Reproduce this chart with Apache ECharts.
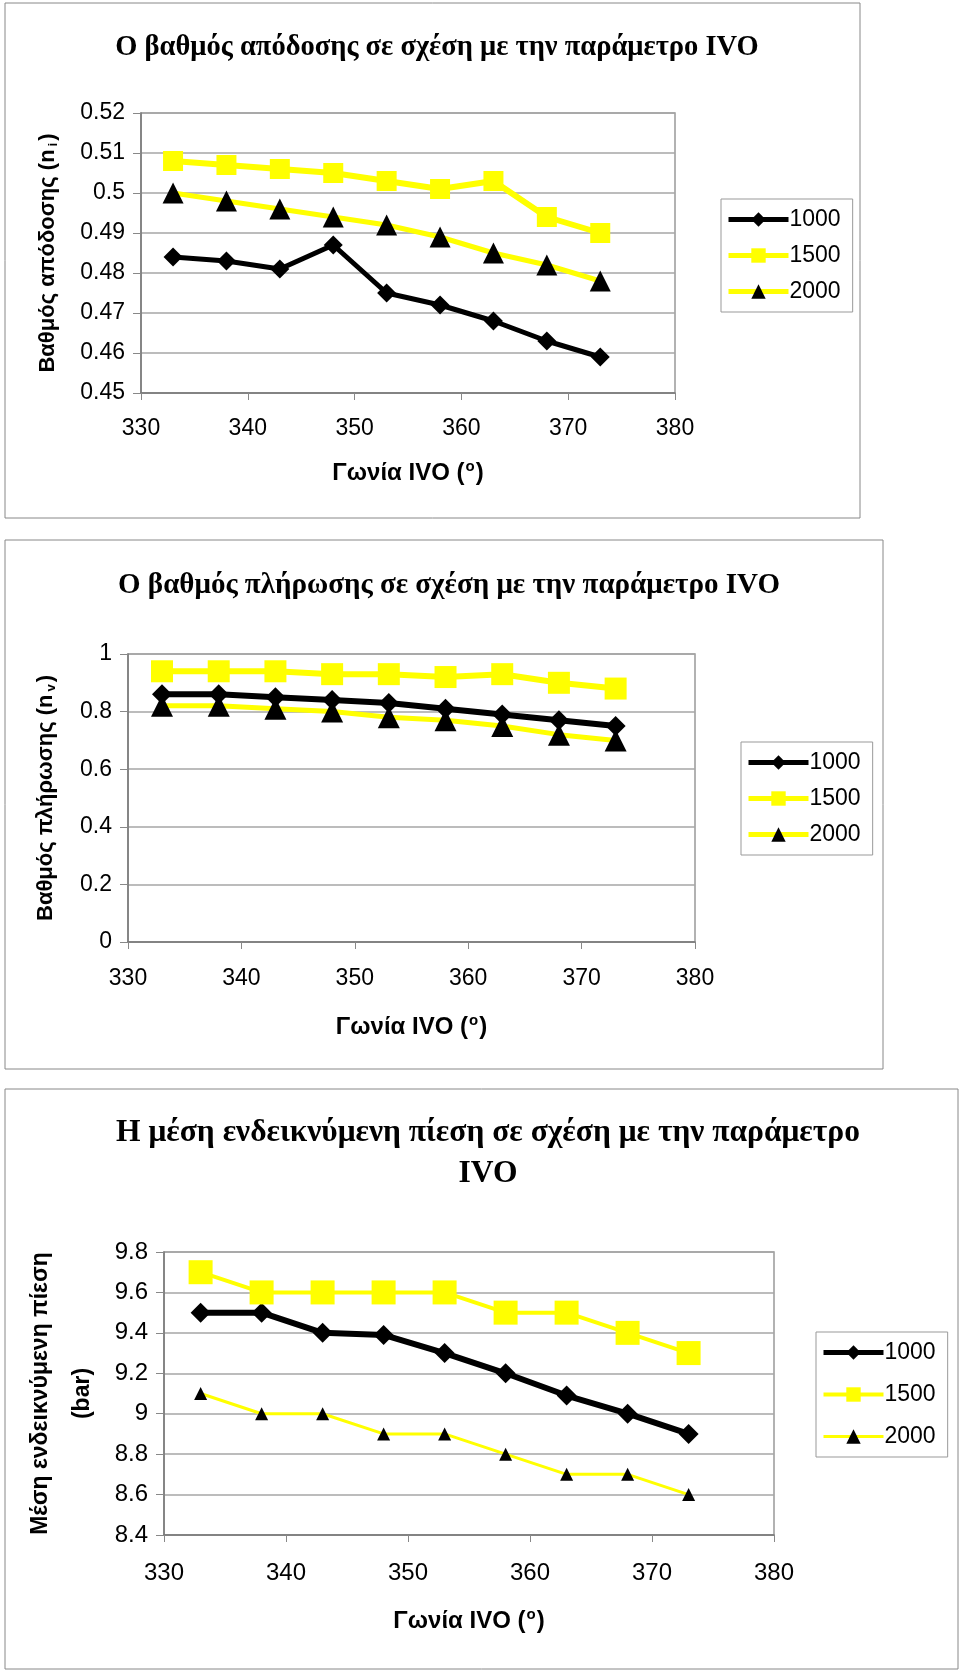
<!DOCTYPE html>
<html>
<head>
<meta charset="utf-8">
<script src="https://cdn.jsdelivr.net/npm/echarts@6/dist/echarts.min.js"></script>
<style>
  html, body { margin: 0; padding: 0; background: #fff; }
  #main { width: 960px; height: 1672px; }
</style>
</head>
<body>
<div id="main"></div>
<script>
  // γωνία IVO (μοίρες)
  const ivo = [333, 338, 343, 348, 353, 358, 363, 368, 373]
  const speeds = ['1000', '1500', '2000']

  // βαθμός απόδοσης n_i
  const effic1000 = [0.484, 0.483, 0.481, 0.487, 0.475, 0.472, 0.468, 0.463, 0.459]
  const effic1500 = [0.508, 0.507, 0.506, 0.505, 0.503, 0.501, 0.503, 0.494, 0.490]
  const effic2000 = [0.500, 0.498, 0.496, 0.494, 0.492, 0.489, 0.485, 0.482, 0.478]

  // βαθμός πλήρωσης n_v
  const fill1000 = [0.86, 0.86, 0.85, 0.84, 0.83, 0.81, 0.79, 0.77, 0.75]
  const fill1500 = [0.94, 0.94, 0.94, 0.93, 0.93, 0.92, 0.93, 0.90, 0.88]
  const fill2000 = [0.82, 0.82, 0.81, 0.80, 0.78, 0.77, 0.75, 0.72, 0.70]

  // μέση ενδεικνύμενη πίεση (bar)
  const imep1000 = [9.5, 9.5, 9.4, 9.39, 9.3, 9.2, 9.09, 9.0, 8.9]
  const imep1500 = [9.7, 9.6, 9.6, 9.6, 9.6, 9.5, 9.5, 9.4, 9.3]
  const imep2000 = [9.1, 9.0, 9.0, 8.9, 8.9, 8.8, 8.7, 8.7, 8.6]

  const xTicks = { min: 330, max: 380, interval: 10 }
  const yTicks = [
    { min: 0.45, max: 0.52, interval: 0.01 },
    { min: 0, max: 1, interval: 0.2 },
    { min: 8.4, max: 9.8, interval: 0.2 }
  ]

  const sans = 'Liberation Sans, Arial, sans-serif'
  const serif = 'Liberation Serif, Times New Roman, serif'
  const yellow = '#FFFF00'

  const pairs = (vals) => ivo.map((x, i) => [x, vals[i]])

  const grids = [
    { left: 141, top: 113, width: 534, height: 280 },
    { left: 128, top: 654, width: 567, height: 288 },
    { left: 164, top: 1252, width: 610, height: 283 }
  ]
  const labelSize = [23, 23, 24]

  const xNameRich = {
    a: { fontFamily: sans, fontSize: 24, fontWeight: 'bold', color: '#000', lineHeight: 28 },
    o: { fontFamily: sans, fontSize: 15, fontWeight: 'bold', color: '#000', verticalAlign: 'top', lineHeight: 28, padding: [0, 1, 12, 1] }
  }
  const yNameRich = {
    a: { fontFamily: sans, fontSize: 22, fontWeight: 'bold', color: '#000', lineHeight: 26 },
    s: { fontFamily: sans, fontSize: 13, fontWeight: 'bold', color: '#000', lineHeight: 26, padding: [10, 2, 0, 3] }
  }

  const xAxes = grids.map((g, i) => ({
    type: 'value',
    gridIndex: i,
    min: xTicks.min,
    max: xTicks.max,
    interval: xTicks.interval,
    name: '{a|Γωνία IVO (}{o|o}{a|)}',
    nameLocation: 'middle',
    nameGap: [66, 71, 72][i],
    nameTextStyle: { rich: xNameRich },
    axisLine: { lineStyle: { color: '#777', width: 1.5 } },
    axisTick: { show: true, length: 7, lineStyle: { color: '#888' } },
    axisLabel: { fontFamily: sans, fontSize: labelSize[i], color: '#000', margin: [24, 25, 26][i] },
    splitLine: { show: false }
  }))

  const yNames = [
    '{a|Βαθμός απόδοσης (n}{s|i}{a|)}',
    '{a|Βαθμός πλήρωσης (n}{s|v}{a|)}',
    'Μέση ενδεικνύμενη πίεση\n(bar)'
  ]

  const yAxes = grids.map((g, i) => ({
    type: 'value',
    gridIndex: i,
    min: yTicks[i].min,
    max: yTicks[i].max,
    interval: yTicks[i].interval,
    name: yNames[i],
    nameLocation: 'middle',
    nameGap: [80, 69, 58][i],
    nameTextStyle: i === 2
      ? { fontFamily: sans, fontSize: 23, fontWeight: 'bold', color: '#000', lineHeight: 42 }
      : { rich: yNameRich },
    axisLine: { show: true, lineStyle: { color: '#777', width: 1.5 } },
    axisTick: { show: true, length: 8, lineStyle: { color: '#888' } },
    axisLabel: { fontFamily: sans, fontSize: labelSize[i], color: '#000', margin: 16 },
    splitLine: { show: true, lineStyle: { color: '#a6a6a6', width: 1.5 } }
  }))

  function lineSeries(chart, speed, vals, opts) {
    return {
      name: chart + ':' + speed,
      type: 'line',
      xAxisIndex: chart,
      yAxisIndex: chart,
      data: pairs(vals),
      symbol: opts.symbol,
      symbolSize: opts.size,
      color: opts.color,
      itemStyle: { color: opts.markerColor },
      lineStyle: { color: opts.color, width: opts.width },
      emphasis: { disabled: true }
    }
  }

  const styles = [
    [
      { symbol: 'diamond', size: 19, color: '#000', markerColor: '#000', width: 5 },
      { symbol: 'rect', size: 20, color: yellow, markerColor: yellow, width: 6 },
      { symbol: 'triangle', size: 21, color: yellow, markerColor: '#000', width: 5 }
    ],
    [
      { symbol: 'diamond', size: 20, color: '#000', markerColor: '#000', width: 6 },
      { symbol: 'rect', size: 22, color: yellow, markerColor: yellow, width: 6 },
      { symbol: 'triangle', size: 22, color: yellow, markerColor: '#000', width: 5 }
    ],
    [
      { symbol: 'diamond', size: 20, color: '#000', markerColor: '#000', width: 6 },
      { symbol: 'rect', size: 24, color: yellow, markerColor: yellow, width: 4 },
      { symbol: 'triangle', size: 13, color: yellow, markerColor: '#000', width: 3 }
    ]
  ]

  const values = [
    [effic1000, effic1500, effic2000],
    [fill1000, fill1500, fill2000],
    [imep1000, imep1500, imep2000]
  ]

  const series = []
  values.forEach((set, c) => {
    set.forEach((vals, k) => series.push(lineSeries(c, speeds[k], vals, styles[c][k])))
  })

  const legendPos = [
    { left: 721, top: 199, itemGap: 13 },
    { left: 741, top: 742, itemGap: 13 },
    { left: 816, top: 1332, itemGap: 19 }
  ]

  const legends = legendPos.map((p, i) => ({
    orient: 'vertical',
    left: p.left,
    top: p.top,
    itemGap: p.itemGap,
    itemWidth: 60,
    itemHeight: 18,
    padding: [9, 12, 9, 5],
    borderColor: '#999',
    borderWidth: 1,
    selectedMode: false,
    data: speeds.map((s, k) => ({
      name: i + ':' + s,
      lineStyle: { width: Math.min(styles[i][k].width, 5) }
    })),
    formatter: (name) => name.split(':')[1],
    textStyle: { fontFamily: sans, fontSize: 23, color: '#000', padding: [0, 0, 0, -4] }
  }))

  const titles = [
    { text: 'Ο βαθμός απόδοσης σε σχέση με την παράμετρο IVO', left: 432, top: 22, size: 28.5 },
    { text: 'Ο βαθμός πλήρωσης σε σχέση με την παράμετρο IVO', left: 444, top: 560, size: 29 },
    { text: 'Η μέση ενδεικνύμενη πίεση σε σχέση με την παράμετρο\nIVO', left: 483, top: 1107, size: 31.5 }
  ].map((t) => ({
    text: t.text,
    left: t.left,
    top: t.top,
    textAlign: 'center',
    textStyle: { fontFamily: serif, fontSize: t.size, fontWeight: 'bold', color: '#000', lineHeight: 41 }
  }))

  // рамки панелей
  const frames = [
    { x: 5, y: 3, width: 855, height: 515 },
    { x: 5, y: 540, width: 878, height: 529 },
    { x: 5, y: 1089, width: 953, height: 580 }
  ].map((r) => ({
    type: 'rect',
    shape: r,
    silent: true,
    z: -10,
    style: { fill: '#fff', stroke: '#888', lineWidth: 1 }
  }))

  const chart = echarts.init(document.getElementById('main'))
  chart.setOption({
    animation: false,
    backgroundColor: '#fff',
    title: titles,
    graphic: frames,
    legend: legends,
    grid: grids.map((g) => ({ ...g, show: true, borderColor: '#999', borderWidth: 1.5, backgroundColor: 'transparent' })),
    xAxis: xAxes,
    yAxis: yAxes,
    series: series
  })
</script>
</body>
</html>
